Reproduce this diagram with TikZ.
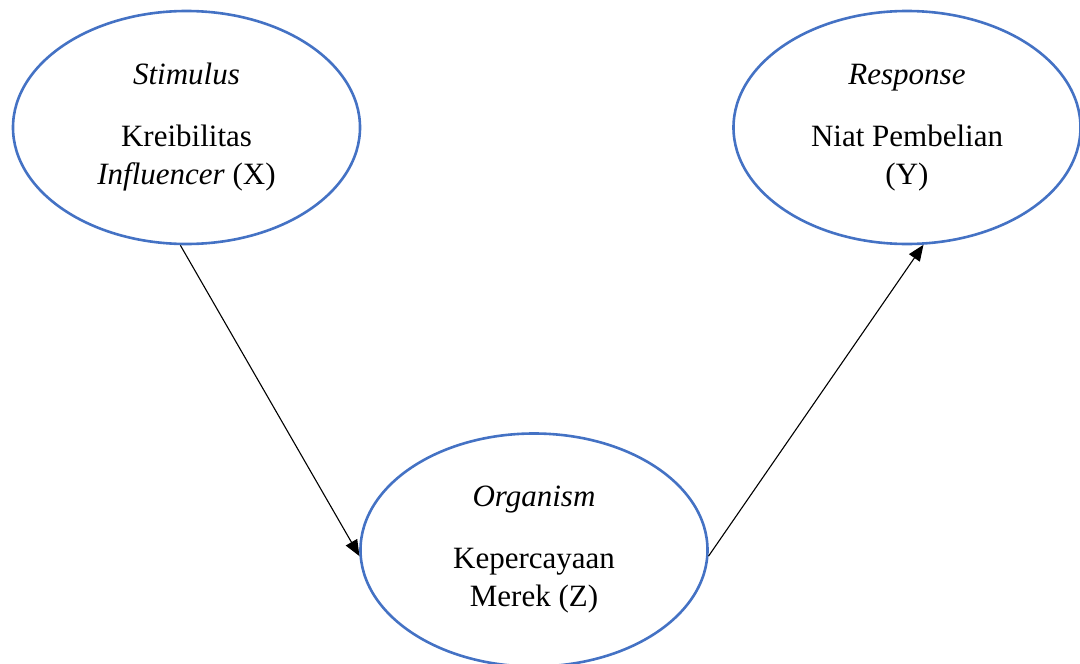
\documentclass[tikz,border=0pt]{standalone}
\usepackage{fontspec}
\setmainfont{Liberation Serif}
\usetikzlibrary{arrows.meta, shapes.geometric}
\definecolor{wordblue}{HTML}{4472C4}

\begin{document}
\begin{tikzpicture}[
  x=1pt, y=-1pt,
  >={Triangle[length=16pt,width=13pt]},
  var/.style={draw=wordblue, ellipse, line width=2.6pt,
              minimum width=347pt, minimum height=233pt, inner sep=0pt,
              align=center, font=\fontsize{31}{38}\selectfont},
  link/.style={->, line width=1.1pt},
]
\path[use as bounding box] (0,0) rectangle (1080,664);
\node[var] (X) at (186.5,127.5) {\textit{Stimulus}\\[24pt]Kreibilitas\\\textit{Influencer} (X)};
\node[var] (Y) at (907,127.5)   {\textit{Response}\\[24pt]Niat Pembelian\\(Y)};
\node[var] (Z) at (534,550)     {\textit{Organism}\\[24pt]Kepercayaan\\Merek (Z)};

\draw[link] (X.267) -- (Z.182);
\draw[link] (Z.358) -- (Y.278);
\end{tikzpicture}
\end{document}
